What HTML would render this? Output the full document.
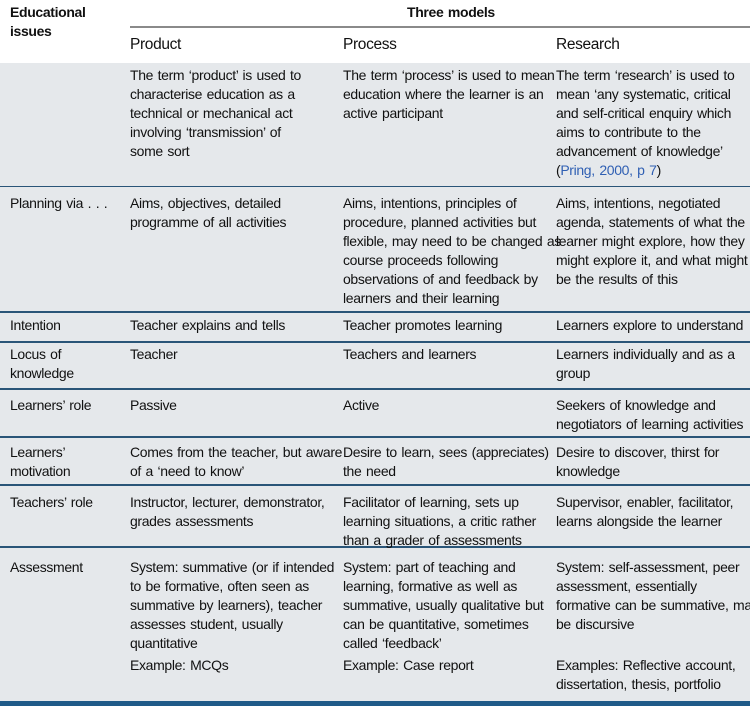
<!DOCTYPE html>
<html><head><meta charset="utf-8"><style>
body{margin:0;width:750px;height:706px;position:relative;background:#fff;overflow:hidden;font-family:"Liberation Sans",sans-serif;color:#111;}
.g{position:absolute;left:0;top:63px;width:750px;height:639px;background:#e5e8eb;}
.l{position:absolute;left:0;width:750px;height:2px;background:#2a5578;}
.c{position:absolute;font-size:14px;line-height:19px;white-space:nowrap;letter-spacing:-0.35px;word-spacing:1px;}
.h{font-size:15.5px;}
b{font-weight:bold;}
a{color:#2f5fb3;text-decoration:none;}
</style></head><body>
<div class="g"></div>
<div style="position:absolute;left:130px;top:26px;width:620px;height:2px;background:#8a8a8a"></div>
<div class="l" style="top:186px;height:1px"></div>
<div class="l" style="top:311px"></div>
<div class="l" style="top:341px"></div>
<div class="l" style="top:388px"></div>
<div class="l" style="top:436px"></div>
<div class="l" style="top:484px"></div>
<div class="l" style="top:546px"></div>
<div class="l" style="top:701px;height:5px;background:#1f5a88"></div>

<div class="c" style="left:10px;top:3px"><b>Educational<br>issues</b></div>
<div class="c" style="left:407px;top:3px"><b>Three models</b></div>
<div class="c h" style="left:130px;top:35px">Product</div>
<div class="c h" style="left:343px;top:35px">Process</div>
<div class="c h" style="left:556px;top:35px">Research</div>

<div class="c" style="left:130px;top:66px">The term ‘product’ is used to<br>characterise education as a<br>technical or mechanical act<br>involving ‘transmission’ of<br>some sort</div>
<div class="c" style="left:343px;top:66px">The term ‘process’ is used to mean<br>education where the learner is an<br>active participant</div>
<div class="c" style="left:556px;top:66px">The term ‘research’ is used to<br>mean ‘any systematic, critical<br>and self-critical enquiry which<br>aims to contribute to the<br>advancement of knowledge’<br>(<a>Pring, 2000, p 7</a>)</div>

<div class="c" style="left:10px;top:194px">Planning via . . .</div>
<div class="c" style="left:130px;top:194px">Aims, objectives, detailed<br>programme of all activities</div>
<div class="c" style="left:343px;top:194px">Aims, intentions, principles of<br>procedure, planned activities but<br>flexible, may need to be changed as<br>course proceeds following<br>observations of and feedback by<br>learners and their learning</div>
<div class="c" style="left:556px;top:194px">Aims, intentions, negotiated<br>agenda, statements of what the<br>learner might explore, how they<br>might explore it, and what might<br>be the results of this</div>

<div class="c" style="left:10px;top:316px">Intention</div>
<div class="c" style="left:130px;top:316px">Teacher explains and tells</div>
<div class="c" style="left:343px;top:316px">Teacher promotes learning</div>
<div class="c" style="left:556px;top:316px">Learners explore to understand</div>

<div class="c" style="left:10px;top:345px">Locus of<br>knowledge</div>
<div class="c" style="left:130px;top:345px">Teacher</div>
<div class="c" style="left:343px;top:345px">Teachers and learners</div>
<div class="c" style="left:556px;top:345px">Learners individually and as a<br>group</div>

<div class="c" style="left:10px;top:396px">Learners’ role</div>
<div class="c" style="left:130px;top:396px">Passive</div>
<div class="c" style="left:343px;top:396px">Active</div>
<div class="c" style="left:556px;top:396px">Seekers of knowledge and<br>negotiators of learning activities</div>

<div class="c" style="left:10px;top:443px">Learners’<br>motivation</div>
<div class="c" style="left:130px;top:443px">Comes from the teacher, but aware<br>of a ‘need to know’</div>
<div class="c" style="left:343px;top:443px">Desire to learn, sees (appreciates)<br>the need</div>
<div class="c" style="left:556px;top:443px">Desire to discover, thirst for<br>knowledge</div>

<div class="c" style="left:10px;top:493px">Teachers’ role</div>
<div class="c" style="left:130px;top:493px">Instructor, lecturer, demonstrator,<br>grades assessments</div>
<div class="c" style="left:343px;top:493px">Facilitator of learning, sets up<br>learning situations, a critic rather<br>than a grader of assessments</div>
<div class="c" style="left:556px;top:493px">Supervisor, enabler, facilitator,<br>learns alongside the learner</div>

<div class="c" style="left:10px;top:558px">Assessment</div>
<div class="c" style="left:130px;top:558px">System: summative (or if intended<br>to be formative, often seen as<br>summative by learners), teacher<br>assesses student, usually<br>quantitative</div>
<div class="c" style="left:343px;top:558px">System: part of teaching and<br>learning, formative as well as<br>summative, usually qualitative but<br>can be quantitative, sometimes<br>called ‘feedback’</div>
<div class="c" style="left:556px;top:558px">System: self-assessment, peer<br>assessment, essentially<br>formative can be summative, may<br>be discursive</div>
<div class="c" style="left:130px;top:656px">Example: MCQs</div>
<div class="c" style="left:343px;top:656px">Example: Case report</div>
<div class="c" style="left:556px;top:656px">Examples: Reflective account,<br>dissertation, thesis, portfolio</div>
</body></html>
